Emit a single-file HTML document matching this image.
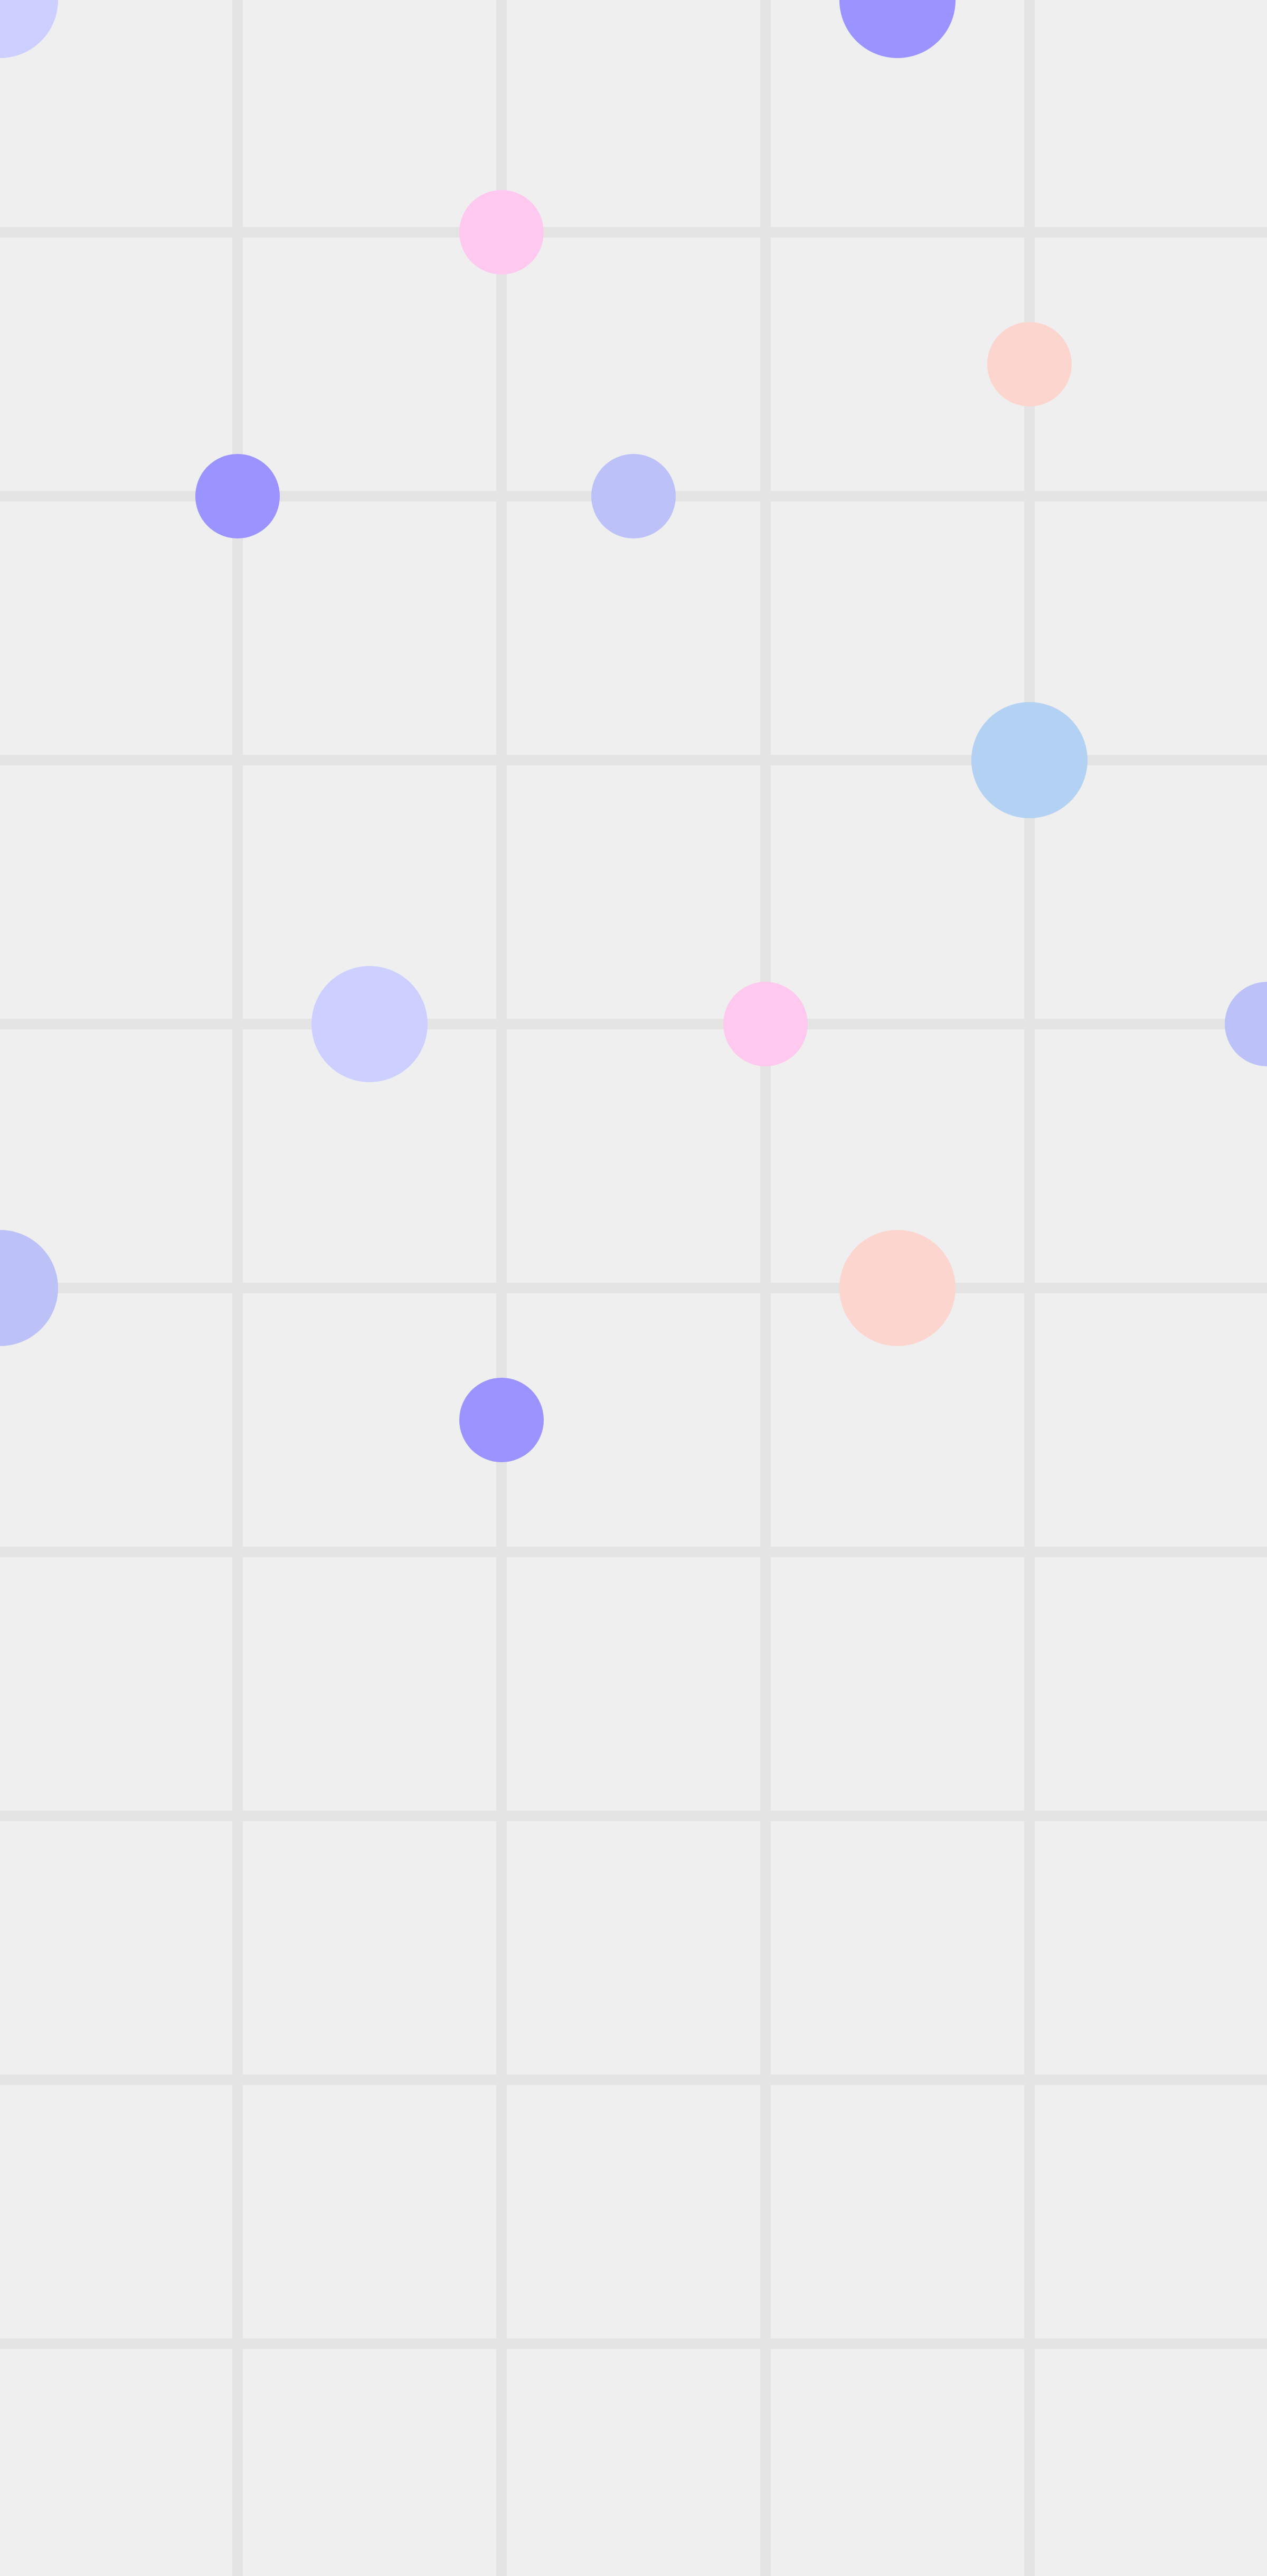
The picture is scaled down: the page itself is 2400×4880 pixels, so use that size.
<!DOCTYPE html>
<html><head><meta charset="utf-8"><style>
html,body{margin:0;padding:0;background:#efefef;}
svg{display:block;}
</style></head><body>
<svg id="chart" width="2400" height="4880" viewBox="0 0 2400 4880" xmlns="http://www.w3.org/2000/svg">
<rect x="0" y="0" width="2400" height="4880" fill="#efefef"/>
<g id="grid"></g>
<g id="dots"></g>
</svg>
<script>
const xTicks = [1, 2, 3, 4];
const yTicks = [1, 2, 3, 4, 5, 6, 7, 8, 9];
const dotX = [0.1, 3.5, 2, 4, 1, 2.5, 4, 1.5, 3, 4.9, 0.1, 3.5, 2];
const dotY = [0.12, 0.12, 1, 1.5, 2, 2, 3, 4, 4, 4, 5, 5, 5.5];
const dotSize = [110, 110, 80, 80, 80, 80, 110, 110, 80, 80, 110, 110, 80];
const dotColor = ["#cccfff","#9b93ff","#ffc8ef","#fcd5ce","#9b93ff","#bcc2f7","#b3d1f2","#cccfff","#ffc8ef","#bcc2f7","#bcc2f7","#fcd5ce","#9b93ff"];
const NS = "http://www.w3.org/2000/svg";
function sx(v){ return -50 + v*500; }
function sy(v){ return -60 + v*500; }
const grid = document.getElementById('grid');
xTicks.forEach(function(t){
  const r = document.createElementNS(NS,'rect');
  r.setAttribute('x', sx(t)-10); r.setAttribute('y', 0);
  r.setAttribute('width', 20); r.setAttribute('height', 4880);
  r.setAttribute('fill', '#e4e4e4');
  
  
  grid.appendChild(r);
});
yTicks.forEach(function(t){
  const r = document.createElementNS(NS,'rect');
  r.setAttribute('x', 0); r.setAttribute('y', sy(t)-10);
  r.setAttribute('width', 2400); r.setAttribute('height', 20);
  r.setAttribute('fill', '#e4e4e4');
  
  
  grid.appendChild(r);
});
const dots = document.getElementById('dots');
dotX.forEach(function(v, i){
  const c = document.createElementNS(NS,'circle');
  c.setAttribute('cx', sx(v));
  c.setAttribute('cy', sy(dotY[i]));
  c.setAttribute('r', dotSize[i]);
  c.setAttribute('fill', dotColor[i]);
  
  
  dots.appendChild(c);
});
</script>
</body></html>
